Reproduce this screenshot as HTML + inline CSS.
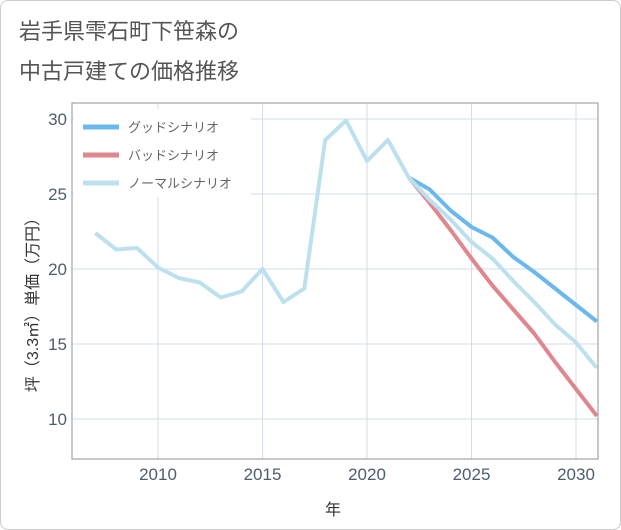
<!DOCTYPE html>
<html><head><meta charset="utf-8"><style>
body{margin:0;background:#fff;font-family:"Liberation Sans","Noto Sans CJK JP",sans-serif;}
#wrap{position:relative;width:619px;height:528px;border:1px solid #ccc;border-radius:8px;overflow:hidden;background:#fff}
</style></head><body>
<div id="wrap">
<svg id="chart" width="619" height="528">
<text x="18" y="38" font-size="22" fill="#555">岩手県雫石町下笹森の</text>
<text x="18" y="78" font-size="22" fill="#555">中古戸建ての価格推移</text>
<g id="grid"></g><g id="series"></g>
<rect x="71" y="102" width="526" height="356" fill="none" stroke="#a0a4aa" stroke-width="1.2"/>
<g id="axes"></g>
<text x="332" y="514" font-size="16" fill="#333" text-anchor="middle">年</text>
<text transform="translate(37,300) rotate(-90)" font-size="16" fill="#333" text-anchor="middle">坪（3.3㎡）単価（万円）</text>
<g id="legend"></g>
</svg></div>
<script>
const years=[2007,2008,2009,2010,2011,2012,2013,2014,2015,2016,2017,2018,2019,2020,2021,2022,2023,2024,2025,2026,2027,2028,2029,2030,2031];
const normalValues=[22.4,21.3,21.4,20.1,19.4,19.1,18.1,18.5,20.0,17.8,18.7,28.6,29.9,27.2,28.6,26.1,24.6,23.3,21.8,20.7,19.2,17.8,16.3,15.1,13.4];
const forecastYears=[2022,2023,2024,2025,2026,2027,2028,2029,2030,2031];
const goodValues=[26.1,25.3,23.9,22.8,22.1,20.8,19.8,18.7,17.6,16.5];
const badValues=[26.1,24.4,22.6,20.7,18.9,17.3,15.7,13.8,12.0,10.2];
const xTicks=[2010,2015,2020,2025,2030];
const yTicks=[10,15,20,25,30];
const legendLabels=["グッドシナリオ","バッドシナリオ","ノーマルシナリオ"];
const NS="http://www.w3.org/2000/svg";
const x=v=>157+(v-2010)*20.9;
const y=v=>418-(v-10)*15;
function mk(t,a,p){const e=document.createElementNS(NS,t);for(const k in a)e.setAttribute(k,a[k]);p.appendChild(e);return e;}
const grid=document.getElementById('grid'),axes=document.getElementById('axes'),ser=document.getElementById('series'),leg=document.getElementById('legend');
xTicks.forEach(t=>{const l=mk('line',{x1:x(t),x2:x(t),y1:103,y2:458,stroke:'#d3dee8'},grid);

const tx=mk('text',{x:x(t),y:479,'font-size':17,fill:'#4d5d70','text-anchor':'middle'},axes);tx.textContent=t;
});
yTicks.forEach(t=>{const l=mk('line',{x1:72,x2:597,y1:y(t),y2:y(t),stroke:'#d3dee8'},grid);

const tx=mk('text',{x:66,y:y(t)+6,'font-size':17,fill:'#4d5d70','text-anchor':'end'},axes);tx.textContent=t;
});
function line(xs,vs,c,name){const p=mk('polyline',{points:xs.map((d,i)=>x(d)+','+y(vs[i])).join(' '),fill:'none',stroke:c,'stroke-width':4,'stroke-linejoin':'round'},ser);
}
line(forecastYears,goodValues,'#6bb8ec','good-scenario-line');
line(forecastYears,badValues,'#e0868f','bad-scenario-line');
line(years,normalValues,'#bde0ee','normal-scenario-line');
const lc=['#6bb8ec','#e0868f','#bde0ee'];
const lb=mk('rect',{x:73,y:108,width:177,height:88,fill:'#fff'},leg);

legendLabels.forEach((s,i)=>{const yy=126+i*28;
const l=mk('line',{x1:82,x2:118,y1:yy,y2:yy,stroke:lc[i],'stroke-width':5},leg);

const t=mk('text',{x:127,y:yy+5,'font-size':13,fill:'#666'},leg);t.textContent=s;
});
</script></body></html>
